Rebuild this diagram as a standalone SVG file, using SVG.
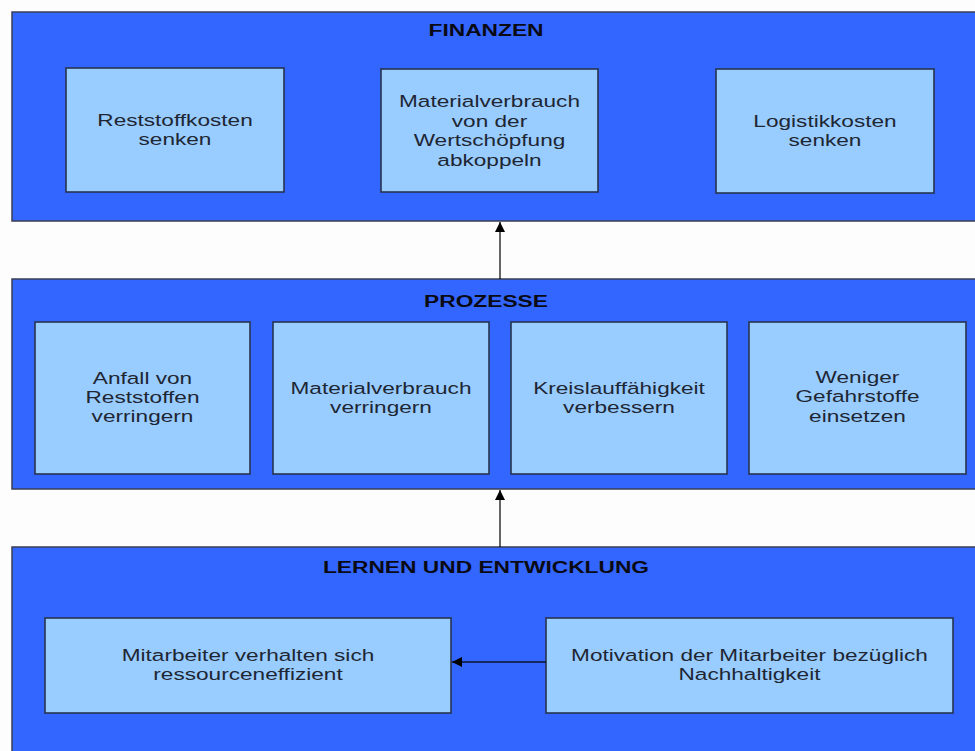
<svg xmlns="http://www.w3.org/2000/svg" width="975" height="751" viewBox="0 0 975 751">
  <defs>
    <style>
      .bg { fill: #fdfdfd; }
      .panel { fill: #3366ff; stroke: #3a3f55; stroke-width: 1.5; }
      .box { fill: #99ccff; stroke: #27344f; stroke-width: 1.6; }
      .title { font-family: "Liberation Sans", Arial, sans-serif; font-size: 17px; font-weight: bold; fill: #0a0a14; text-anchor: middle; }
      .label { font-family: "Liberation Sans", Arial, sans-serif; font-size: 17px; fill: #1e2633; text-anchor: middle; }
      .conn { fill: none; stroke: #000; stroke-opacity: 0.6; stroke-width: 2; }
    </style>
    <marker id="arrow" viewBox="0 0 10 10" refX="10" refY="5" markerWidth="10" markerHeight="10" markerUnits="userSpaceOnUse" orient="auto">
      <path d="M0,0 L10,5 L0,10 Z" fill="#000"/>
    </marker>
  </defs>

  <rect class="bg" x="0" y="0" width="975" height="751"/>

  <!-- Panels -->
  <g id="panel-finanzen">
    <rect class="panel" x="12" y="12" width="975" height="209"/>
    <text class="title" transform="translate(486 36) scale(1.34 1)">FINANZEN</text>
  </g>
  <g id="panel-prozesse">
    <rect class="panel" x="12" y="279" width="975" height="210"/>
    <text class="title" transform="translate(486 307) scale(1.34 1)">PROZESSE</text>
  </g>
  <g id="panel-lernen">
    <rect class="panel" x="12" y="547" width="975" height="220"/>
    <text class="title" transform="translate(486 573) scale(1.34 1)">LERNEN UND ENTWICKLUNG</text>
  </g>

  <!-- Finanzen nodes -->
  <g id="reststoffkosten">
    <rect class="box" x="66" y="68" width="218" height="124"/>
    <text class="label" transform="translate(175 0) scale(1.33 1)"><tspan x="0" y="126">Reststoffkosten</tspan><tspan x="0" y="145">senken</tspan></text>
  </g>
  <g id="materialverbrauch-abkoppeln">
    <rect class="box" x="381" y="69" width="217" height="123"/>
    <text class="label" transform="translate(489.5 0) scale(1.33 1)"><tspan x="0" y="107">Materialverbrauch</tspan><tspan x="0" y="127">von der</tspan><tspan x="0" y="146">Wertschöpfung</tspan><tspan x="0" y="166">abkoppeln</tspan></text>
  </g>
  <g id="logistikkosten">
    <rect class="box" x="716" y="69" width="218" height="124"/>
    <text class="label" transform="translate(825 0) scale(1.33 1)"><tspan x="0" y="127">Logistikkosten</tspan><tspan x="0" y="146">senken</tspan></text>
  </g>

  <!-- Prozesse nodes -->
  <g id="reststoffe-verringern">
    <rect class="box" x="35" y="322" width="215" height="152"/>
    <text class="label" transform="translate(142.5 0) scale(1.33 1)"><tspan x="0" y="384">Anfall von</tspan><tspan x="0" y="403">Reststoffen</tspan><tspan x="0" y="422">verringern</tspan></text>
  </g>
  <g id="materialverbrauch-verringern">
    <rect class="box" x="273" y="322" width="216" height="152"/>
    <text class="label" transform="translate(381 0) scale(1.33 1)"><tspan x="0" y="394">Materialverbrauch</tspan><tspan x="0" y="413">verringern</tspan></text>
  </g>
  <g id="kreislauffaehigkeit">
    <rect class="box" x="511" y="322" width="216" height="152"/>
    <text class="label" transform="translate(619 0) scale(1.33 1)"><tspan x="0" y="394">Kreislauffähigkeit</tspan><tspan x="0" y="413">verbessern</tspan></text>
  </g>
  <g id="gefahrstoffe">
    <rect class="box" x="749" y="322" width="217" height="152"/>
    <text class="label" transform="translate(857.5 0) scale(1.33 1)"><tspan x="0" y="383">Weniger</tspan><tspan x="0" y="402">Gefahrstoffe</tspan><tspan x="0" y="422">einsetzen</tspan></text>
  </g>

  <!-- Lernen und Entwicklung nodes -->
  <g id="mitarbeiter-verhalten">
    <rect class="box" x="45" y="618" width="406" height="95"/>
    <text class="label" transform="translate(248 0) scale(1.33 1)"><tspan x="0" y="661">Mitarbeiter verhalten sich</tspan><tspan x="0" y="680">ressourceneffizient</tspan></text>
  </g>
  <g id="motivation">
    <rect class="box" x="546" y="618" width="407" height="95"/>
    <text class="label" transform="translate(749.5 0) scale(1.33 1)"><tspan x="0" y="661">Motivation der Mitarbeiter bezüglich</tspan><tspan x="0" y="680">Nachhaltigkeit</tspan></text>
  </g>

  <!-- Connectors -->
  <g id="connectors">
    <line class="conn" x1="500" y1="279" x2="500" y2="222" marker-end="url(#arrow)"/>
    <line class="conn" x1="500" y1="547" x2="500" y2="490" marker-end="url(#arrow)"/>
    <line class="conn" x1="546" y1="662" x2="452" y2="662" marker-end="url(#arrow)"/>
  </g>
</svg>
